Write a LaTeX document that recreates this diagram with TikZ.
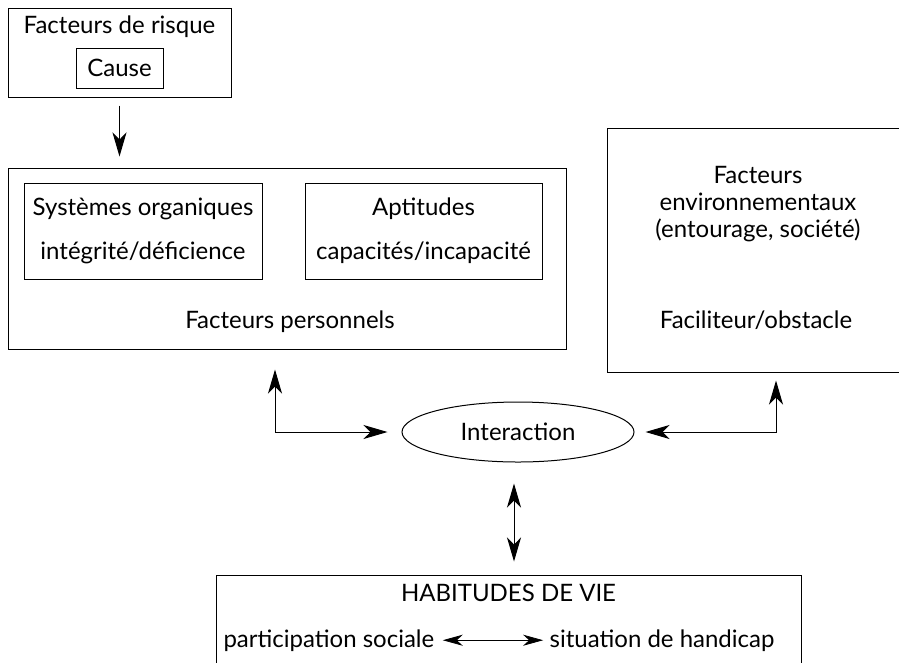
\documentclass[tikz,border=0pt]{standalone}
\usepackage{fontspec}
\setmainfont{Lato}
\usetikzlibrary{shapes.geometric,arrows.meta}

\tikzset{every picture/.style={line width=1pt}}
\tikzset{
  every node/.style={font=\fontsize{24}{27}\selectfont},
  cadre/.style={draw, rectangle, inner sep=0pt, align=center},
  texte/.style={inner sep=0pt, align=center},
  fleche/.style={-{Stealth[length=24pt,width=14pt,inset=7pt]}},
  doublefleche/.style={{Stealth[length=24pt,width=14pt,inset=7pt]}-{Stealth[length=24pt,width=14pt,inset=7pt]}},
  petitefleche/.style={line width=0.8pt,{Stealth[length=20pt,width=11pt,inset=6pt]}-{Stealth[length=20pt,width=11pt,inset=6pt]}}
}

\begin{document}
\begin{tikzpicture}[x=1pt,y=1pt,yscale=-1]
\useasboundingbox (0,0) rectangle (899,662);

% Facteurs de risque
\node[cadre, minimum width=223pt, minimum height=89pt] (risque) at (119.5,52.5) {};
\node[texte, anchor=base] (risqueTitre) at (119.5,33) {Facteurs de risque};
\node[cadre, minimum width=87pt, minimum height=40pt] (cause) at (119.5,68) {Cause};

% Facteurs personnels
\node[cadre, minimum width=558pt, minimum height=181pt] (perso) at (287,258.5) {};
\node[cadre, font=\fontsize{24}{44}\selectfont, minimum width=238pt, minimum height=96pt] (systemes) at (143,231) {Systèmes organiques\\intégrité/déficience};
\node[cadre, font=\fontsize{24}{44}\selectfont, minimum width=237pt, minimum height=96pt] (aptitudes) at (423.5,231) {Aptitudes\\capacités/incapacité};
\node[texte, anchor=base] (persoTitre) at (290,328) {Facteurs personnels};

% Facteurs environnementaux
\node[cadre, minimum width=302pt, minimum height=244pt] (env) at (758,250) {};
\node[texte, anchor=north] (envTitre) at (758,166) {Facteurs\\environnementaux\\(entourage, société)};
\node[texte, anchor=base] (facil) at (756,328) {Faciliteur/obstacle};

% Interaction
\node[draw, ellipse, minimum width=232pt, minimum height=60pt, inner sep=0pt] (inter) at (518,432) {Interaction};

% Habitudes de vie
\node[cadre, minimum width=585pt, minimum height=115pt] (habitudes) at (508.5,632.5) {};
\node[texte, anchor=base] (habTitre) at (508.5,601) {HABITUDES DE VIE};
\node[texte, anchor=base west] (partic) at (223,647) {participation sociale};
\node[texte, anchor=base east] (situ) at (775,647) {situation de handicap};

\coordinate (coinG) at (275,432);
\coordinate (coinD) at (776,432);

%Arrows
\draw[fleche, shorten <=8pt, shorten >=11pt] (risque.south) -- (risque.south |- perso.north);
\draw[doublefleche, shorten <=20pt, shorten >=14pt] (perso.south -| coinG) -- (coinG) -- (inter.west);
\draw[doublefleche, shorten <=11pt, shorten >=8pt] (inter.east) -- (coinD) -- (coinD |- env.south);
\draw[doublefleche, shorten <=21pt, shorten >=13pt] ([xshift=-4pt]inter.south) -- ([xshift=-4pt]inter.south |- habitudes.north);
\draw[petitefleche, shorten <=8pt, shorten >=6pt] (partic.east) -- (situ.west);

\end{tikzpicture}
\end{document}
